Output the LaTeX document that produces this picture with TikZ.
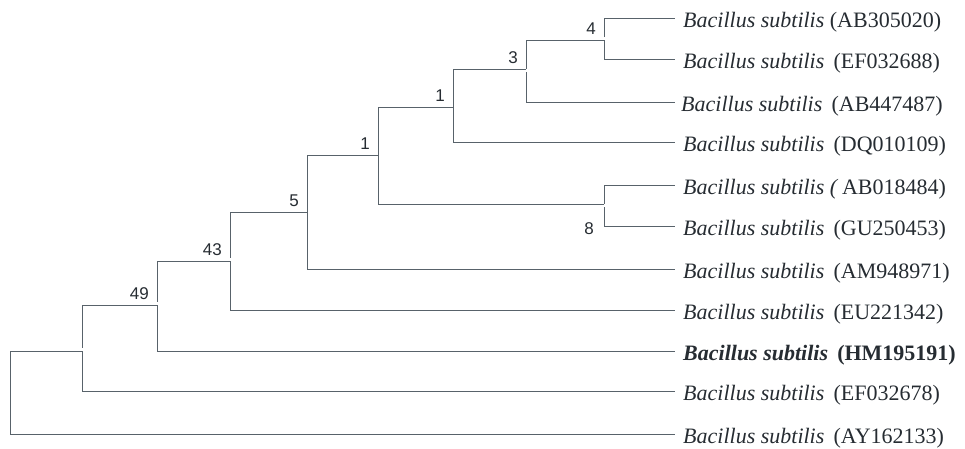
\documentclass[tikz,border=0pt]{standalone}
\usepackage{fontspec}
\setmainfont{Liberation Serif}
\newfontfamily\bootfont{Liberation Sans}
\definecolor{branch}{HTML}{58626A}
\definecolor{ink}{HTML}{262C32}

\begin{document}
\begin{tikzpicture}[x=1pt,y=-1pt,
  br/.style={draw=branch,line width=1pt},
  leaf/.style={anchor=base west,inner sep=0pt,text=ink,font=\fontsize{22}{24}\selectfont},
  boot/.style={anchor=base east,inner sep=0pt,text=ink,font=\bootfont\fontsize{17}{19}\selectfont}]
\useasboundingbox (0,0) rectangle (965,448);

% leaf tips
\coordinate (t1)  at (675,18);
\coordinate (t2)  at (675,59);
\coordinate (t3)  at (675,102);
\coordinate (t4)  at (675,142);
\coordinate (t5)  at (675,185);
\coordinate (t6)  at (675,226);
\coordinate (t7)  at (675,269);
\coordinate (t8)  at (675,310);
\coordinate (t9)  at (675,351);
\coordinate (t10) at (675,391);
\coordinate (t11) at (675,434);

% internal nodes (x = depth, y = where the parent branch joins)
\coordinate (n4)   at (604,40);
\coordinate (n3)   at (526,69);
\coordinate (n1a)  at (453,107);
\coordinate (n8)   at (604,204);
\coordinate (n1b)  at (378,155);
\coordinate (n5)   at (307,212);
\coordinate (n43)  at (230,261);
\coordinate (n49)  at (157,305);
\coordinate (n0)   at (82,351);
\coordinate (root) at (10,392);

% taxon labels
\node[leaf] (L1)  at (683,27)  {\textit{Bacillus subtilis} (AB305020)};
\node[leaf] (L2)  at (683,68)  {\textit{Bacillus subtilis}\, (EF032688)};
\node[leaf] (L3)  at (681,111) {\textit{Bacillus subtilis}\, (AB447487)};
\node[leaf] (L4)  at (683,151) {\textit{Bacillus subtilis}\, (DQ010109)};
\node[leaf] (L5)  at (683,194) {\textit{Bacillus subtilis (}\,AB018484)};
\node[leaf] (L6)  at (683,235) {\textit{Bacillus subtilis}\, (GU250453)};
\node[leaf] (L7)  at (683,278) {\textit{Bacillus subtilis}\, (AM948971)};
\node[leaf] (L8)  at (683,319) {\textit{Bacillus subtilis}\, (EU221342)};
\node[leaf] (L9)  at (683,360) {\textbf{\textit{Bacillus subtilis}\, (HM195191)}};
\node[leaf] (L10) at (683,400) {\textit{Bacillus subtilis}\, (EF032678)};
\node[leaf] (L11) at (683,443) {\textit{Bacillus subtilis}\, (AY162133)};

% branches
\draw[br] ([yshift=3pt]n4) |- (t1);
\draw[br] (n4) |- (t2);
\draw[br] (n4) -| (n3);
\draw[br] ([yshift=-3pt]n3) |- (t3);
\draw[br] (n3) -| (n1a);
\draw[br] (n1a) |- (t4);
\draw[br] (n1a) -| (n1b);
\draw[br] (n1b) |- (n8);
\draw[br] (n8) |- (t5);
\draw[br] ([yshift=-3pt]n8) |- (t6);
\draw[br] (n1b) -| (n5);
\draw[br] (n5) |- (t7);
\draw[br] (n5) -| ([yshift=3pt]n43);
\draw[br] (n43) |- (t8);
\draw[br] (n43) -| ([yshift=3pt]n49);
\draw[br] (n49) |- (t9);
\draw[br] (n49) -| ([yshift=3pt]n0);
\draw[br] (n0) |- (t10);
\draw[br] (n0) -| (root);
\draw[br] (root) |- (t11);

% bootstrap values
\node[boot] (b4)  at ([shift={(-8,-6)}]n4)  {4};
\node[boot] (b3)  at ([shift={(-8,-6)}]n3)  {3};
\node[boot] (b1a) at ([shift={(-8,-6)}]n1a) {1};
\node[boot] (b1b) at ([shift={(-8,-6)}]n1b) {1};
\node[boot] (b8)  at ([shift={(-10,30)}]n8) {8};
\node[boot] (b5)  at ([shift={(-8,-6)}]n5)  {5};
\node[boot] (b43) at ([shift={(-8,-6)}]n43) {43};
\node[boot] (b49) at ([shift={(-8,-6)}]n49) {49};
\end{tikzpicture}
\end{document}
